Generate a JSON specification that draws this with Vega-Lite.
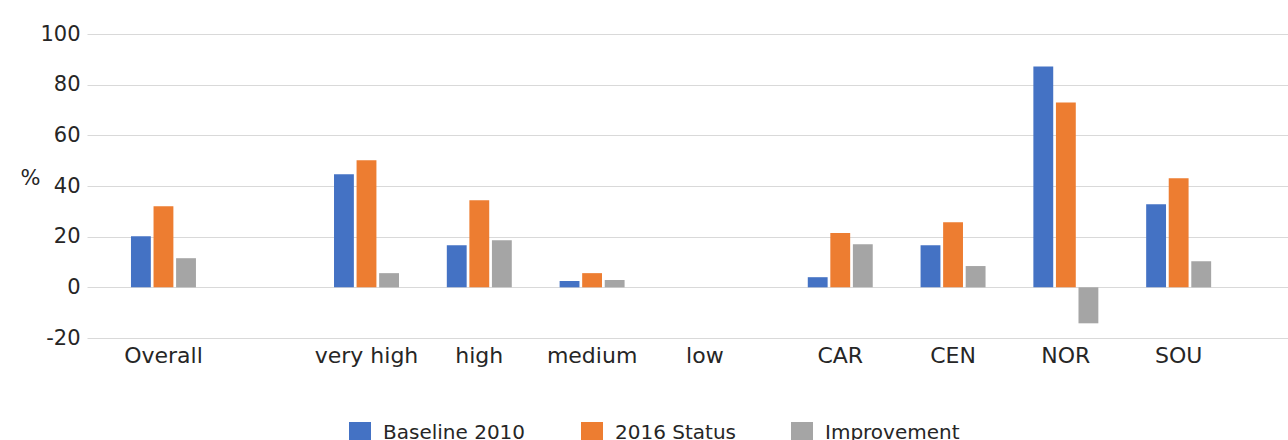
{
  "$schema": "https://vega.github.io/schema/vega-lite/v6.json",
  "width": 1201,
  "height": 304,
  "autosize": {"type": "none"},
  "padding": {"left": 87, "top": 34, "right": 0, "bottom": 102},
  "background": "white",
  "config": {
    "view": {"stroke": null},
    "font": "DejaVu Sans",
    "axis": {"labelColor": "#262626", "titleColor": "#262626"}
  },
  "data": {
    "values": [
      {"bar": "Overall|Baseline 2010", "group": "Overall", "series": "Baseline 2010", "value": 20.2},
      {"bar": "Overall|2016 Status", "group": "Overall", "series": "2016 Status", "value": 32.0},
      {"bar": "Overall|Improvement", "group": "Overall", "series": "Improvement", "value": 11.5},
      {"bar": "very high|Baseline 2010", "group": "very high", "series": "Baseline 2010", "value": 44.6},
      {"bar": "very high|2016 Status", "group": "very high", "series": "2016 Status", "value": 50.2},
      {"bar": "very high|Improvement", "group": "very high", "series": "Improvement", "value": 5.6},
      {"bar": "high|Baseline 2010", "group": "high", "series": "Baseline 2010", "value": 16.6},
      {"bar": "high|2016 Status", "group": "high", "series": "2016 Status", "value": 34.4},
      {"bar": "high|Improvement", "group": "high", "series": "Improvement", "value": 18.6},
      {"bar": "medium|Baseline 2010", "group": "medium", "series": "Baseline 2010", "value": 2.5},
      {"bar": "medium|2016 Status", "group": "medium", "series": "2016 Status", "value": 5.6},
      {"bar": "medium|Improvement", "group": "medium", "series": "Improvement", "value": 2.9},
      {"bar": "CAR|Baseline 2010", "group": "CAR", "series": "Baseline 2010", "value": 4.0},
      {"bar": "CAR|2016 Status", "group": "CAR", "series": "2016 Status", "value": 21.4},
      {"bar": "CAR|Improvement", "group": "CAR", "series": "Improvement", "value": 17.0},
      {"bar": "CEN|Baseline 2010", "group": "CEN", "series": "Baseline 2010", "value": 16.6},
      {"bar": "CEN|2016 Status", "group": "CEN", "series": "2016 Status", "value": 25.7},
      {"bar": "CEN|Improvement", "group": "CEN", "series": "Improvement", "value": 8.4},
      {"bar": "NOR|Baseline 2010", "group": "NOR", "series": "Baseline 2010", "value": 87.2},
      {"bar": "NOR|2016 Status", "group": "NOR", "series": "2016 Status", "value": 73.0},
      {"bar": "NOR|Improvement", "group": "NOR", "series": "Improvement", "value": -14.2},
      {"bar": "SOU|Baseline 2010", "group": "SOU", "series": "Baseline 2010", "value": 32.8},
      {"bar": "SOU|2016 Status", "group": "SOU", "series": "2016 Status", "value": 43.1},
      {"bar": "SOU|Improvement", "group": "SOU", "series": "Improvement", "value": 10.3}
    ]
  },
  "mark": {"type": "bar"},
  "encoding": {
    "x": {
      "field": "bar",
      "type": "nominal",
      "sort": null,
      "scale": {
        "domain": [
          "_z0",
          "Overall|Baseline 2010", "Overall|2016 Status", "Overall|Improvement",
          "_a1", "_a2", "_a3", "_a4", "_a5", "_a6",
          "very high|Baseline 2010", "very high|2016 Status", "very high|Improvement",
          "_b1", "_b2",
          "high|Baseline 2010", "high|2016 Status", "high|Improvement",
          "_c1", "_c2",
          "medium|Baseline 2010", "medium|2016 Status", "medium|Improvement",
          "_d1", "_d2",
          "low|Baseline 2010", "low|2016 Status", "low|Improvement",
          "_e1", "_e2", "_e3",
          "CAR|Baseline 2010", "CAR|2016 Status", "CAR|Improvement",
          "_f1", "_f2",
          "CEN|Baseline 2010", "CEN|2016 Status", "CEN|Improvement",
          "_g1", "_g2",
          "NOR|Baseline 2010", "NOR|2016 Status", "NOR|Improvement",
          "_h1", "_h2",
          "SOU|Baseline 2010", "SOU|2016 Status", "SOU|Improvement",
          "_i1", "_i2", "_i3"
        ],
        "paddingInner": 0.12,
        "paddingOuter": 0.678,
        "align": 0.7,
        "round": false
      },
      "axis": {
        "title": null,
        "domain": false,
        "ticks": false,
        "grid": false,
        "labelAngle": 0,
        "labelOverlap": false,
        "labelBound": false,
        "labelFlush": false,
        "labelFontSize": 22,
        "labelPadding": 7,
        "labelExpr": "indexof(datum.value, '|2016 Status') > 0 ? split(datum.value, '|')[0] : ''"
      }
    },
    "y": {
      "field": "value",
      "type": "quantitative",
      "scale": {"domain": [-20, 100], "nice": false, "zero": true},
      "axis": {
        "values": [-20, 0, 20, 40, 60, 80, 100],
        "labelExpr": "'' + datum.value",
        "grid": true,
        "gridColor": "#d9d9d9",
        "gridWidth": 1.2,
        "domain": false,
        "ticks": false,
        "labelFontSize": 21,
        "labelPadding": 7,
        "title": "%",
        "titleAngle": 0,
        "titleFontSize": 21,
        "titleFontWeight": "normal",
        "titleAlign": "center",
        "titleBaseline": "middle",
        "titleX": -57,
        "titleY": 144
      }
    },
    "color": {
      "field": "series",
      "type": "nominal",
      "scale": {
        "domain": ["Baseline 2010", "2016 Status", "Improvement"],
        "range": ["#4472C4", "#ED7D31", "#A5A5A5"]
      },
      "legend": {
        "title": null,
        "orient": "none",
        "legendX": 262,
        "legendY": 388,
        "direction": "horizontal",
        "symbolType": "square",
        "symbolSize": 484,
        "symbolStrokeWidth": 0,
        "symbolOpacity": 1,
        "labelFontSize": 20,
        "labelColor": "#262626",
        "labelOffset": 12,
        "columnPadding": 55,
        "padding": 0
      }
    }
  }
}
